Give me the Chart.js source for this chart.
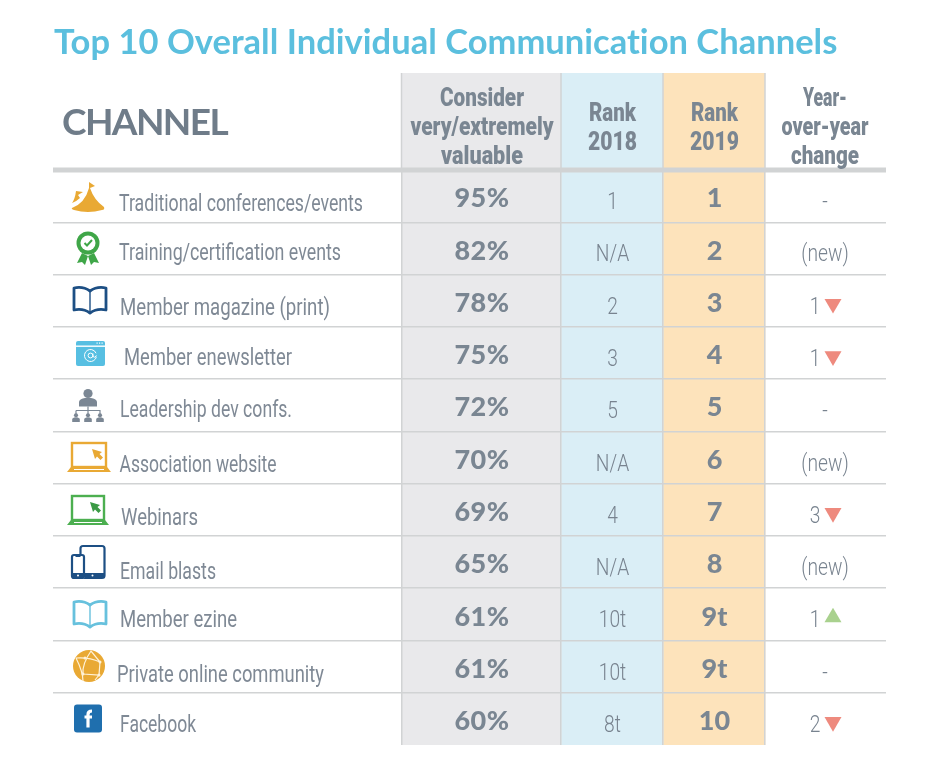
<!DOCTYPE html>
<html><head><meta charset="utf-8">
<style>html,body{margin:0;padding:0;background:#fff}canvas{display:block}</style>
<script src="https://cdn.jsdelivr.net/npm/chart.js@4/dist/chart.umd.min.js"></script>
</head><body><canvas id="c" width="947" height="783"></canvas>
<script>
// ---- data ----
const titleText = 'Top 10 Overall Individual Communication Channels';
const channelHeader = 'CHANNEL';
const channels = ['Traditional conferences/events','Training/certification events','Member magazine (print)','Member enewsletter','Leadership dev confs.','Association website','Webinars','Email blasts','Member ezine','Private online community','Facebook'];
const considerValues = [95,82,78,75,72,70,69,65,61,61,60];
const rank2018 = ['1','N/A','2','3','5','N/A','4','N/A','10t','10t','8t'];
const rank2019 = ['1','2','3','4','5','6','7','8','9t','9t','10'];
const changeLabels = ['-','(new)','1','1','-','(new)','3','(new)','1','-','2'];
const changeDirection = ['','','down','down','','','down','','up','','down'];
const headerConsider = ['Consider','very/extremely','valuable'];
const headerRank2018 = ['Rank','2018'];
const headerRank2019 = ['Rank','2019'];
const headerChange = ['Year-','over-year','change'];

// ---- layout & style (not data) ----
const edges = [401.5,561,663,765];
const tableLeft = 53, tableRight = 886, tableTop = 73, headerBottom = 170, tableBottom = 745;
const centers = {consider:482, r18:612.5, r19:714.5, change:825};
const arrowX = 833, changeNumX = 815;
const GREY='#7a8692', LINE='#d1d3d4';
const labelDx = [119,119,120,124,120,119.5,121,120,120,117,120];
const labelDy = [9,6,8,6,5.5,8,9,11,7,9,7];
const labelW = [244,222,210,168,172,157,77,96,117,207,76];
const NARROW = 0.80; // horizontal squeeze giving the condensed look

const rowBars = (a,b)=>channels.map(()=>[a,b]);
const arrowPoints = dir => changeDirection.map((d,i)=>d===dir?{x:arrowX,y:i+0.06}:null).filter(Boolean);

function text(ctx,s,x,y,font,color,align,width){
  ctx.font=font;ctx.fillStyle=color;ctx.textAlign=align||'left';ctx.textBaseline='middle';
  ctx.letterSpacing='0px';
  if(width){const m=ctx.measureText(s).width;ctx.letterSpacing=((width-m)/s.length).toFixed(3)+'px';}
  ctx.fillText(s,x,y);ctx.letterSpacing='0px';
}
function squeezed(ctx,s,x,y,font,color,align,width){
  ctx.save();ctx.font=font;ctx.fillStyle=color;ctx.textAlign=align||'left';ctx.textBaseline='middle';
  const sx=width?width/ctx.measureText(s).width:NARROW;
  ctx.translate(x,y);ctx.scale(sx,1);ctx.fillText(s,0,0);ctx.restore();
}
function rr(ctx,x,y,w,h,r){ctx.beginPath();ctx.roundRect(x,y,w,h,r);}

function cursor(ctx,x,y,c){ctx.fillStyle=c;ctx.beginPath();ctx.moveTo(x,y);ctx.lineTo(x+10,y+3);ctx.lineTo(x+7.5,y+5);ctx.lineTo(x+11,y+8.5);ctx.lineTo(x+8.5,y+11);ctx.lineTo(x+5,y+7.5);ctx.lineTo(x+3,y+10);ctx.closePath();ctx.fill();}
function laptop(ctx,c,hw){
  ctx.strokeStyle=c;ctx.lineWidth=2.4;ctx.strokeRect(-hw,-14,hw*2,24);
  ctx.fillStyle=c;ctx.beginPath();ctx.moveTo(-hw-1,10);ctx.lineTo(hw+1,10);ctx.lineTo(hw+5,15);ctx.lineTo(-hw-5,15);ctx.closePath();ctx.fill();
  ctx.fillStyle='#fff';ctx.fillRect(-hw+2,12,hw*2-4,1);
}
function book(ctx,c){
  ctx.strokeStyle=c;ctx.lineWidth=2.8;ctx.lineJoin='round';
  ctx.beginPath();ctx.moveTo(0,-9);ctx.quadraticCurveTo(-7,-14,-16,-12);ctx.lineTo(-16,10);ctx.quadraticCurveTo(-7,8,0,13);ctx.quadraticCurveTo(7,8,16,10);ctx.lineTo(16,-12);ctx.quadraticCurveTo(7,-14,0,-9);ctx.closePath();ctx.stroke();
  ctx.lineWidth=1.4;ctx.beginPath();ctx.moveTo(0,-9);ctx.lineTo(0,12);ctx.stroke();
}
function person(ctx,x,y,s,c){ctx.fillStyle=c;ctx.beginPath();ctx.arc(x,y-s*0.6,s*0.55,0,7);ctx.fill();ctx.beginPath();ctx.moveTo(x-s,y+s*1.2);ctx.lineTo(x-s,y+s*0.3);ctx.quadraticCurveTo(x,y-s*0.4,x+s,y+s*0.3);ctx.lineTo(x+s,y+s*1.2);ctx.closePath();ctx.fill();}
const icons = [
 {cx:88,cy:197,draw(ctx){const c='#e9a934';ctx.fillStyle=c;
   ctx.beginPath();ctx.moveTo(1,-15);ctx.lineTo(7,-11);ctx.lineTo(2,-9);ctx.quadraticCurveTo(6,3,16,10);ctx.quadraticCurveTo(17,13,14,13);ctx.quadraticCurveTo(0,17,-14,13);ctx.quadraticCurveTo(-17,12,-16,11);ctx.quadraticCurveTo(-3,6,1,-9);ctx.closePath();ctx.fill();
   ctx.beginPath();ctx.moveTo(-12,-6);ctx.lineTo(-5,-5);ctx.lineTo(-10,-2);ctx.lineTo(-8,1);ctx.quadraticCurveTo(-11,4,-16,6);ctx.quadraticCurveTo(-13,2,-12,-6);ctx.closePath();ctx.fill();}},
 {cx:88,cy:248,draw(ctx){const c='#3fa648';ctx.fillStyle=c;
   ctx.beginPath();ctx.moveTo(-6,5);ctx.lineTo(-11,15);ctx.lineTo(-6,14);ctx.lineTo(-3,17);ctx.lineTo(0,8);ctx.closePath();ctx.fill();
   ctx.beginPath();ctx.moveTo(6,5);ctx.lineTo(11,15);ctx.lineTo(6,14);ctx.lineTo(3,17);ctx.lineTo(0,8);ctx.closePath();ctx.fill();
   ctx.beginPath();ctx.arc(0,-5,11.5,0,7);ctx.fill();
   ctx.fillStyle='#fff';ctx.beginPath();ctx.arc(0,-5,7.5,0,7);ctx.fill();
   ctx.strokeStyle=c;ctx.lineWidth=2;ctx.beginPath();ctx.moveTo(-3.5,-5);ctx.lineTo(-1,-2.5);ctx.lineTo(4,-8);ctx.stroke();}},
 {cx:90,cy:300,draw(ctx){book(ctx,'#1d4f84');}},
 {cx:90.5,cy:353.5,draw(ctx){const c='#57bfe2';ctx.fillStyle=c;rr(ctx,-14.5,-12.5,29,25,2);ctx.fill();
   ctx.fillStyle='#fff';ctx.fillRect(-14.5,-8,29,1.4);
   ctx.fillRect(6,-11,1.2,1.2);ctx.fillRect(8.5,-11,1.2,1.2);ctx.fillRect(11,-11,1.2,1.2);
   ctx.strokeStyle='#fff';ctx.lineWidth=1;ctx.beginPath();ctx.arc(0,2,6,0.2,5.9);ctx.stroke();ctx.beginPath();ctx.arc(0,2,2.4,0,7);ctx.stroke();ctx.beginPath();ctx.moveTo(2.4,0);ctx.lineTo(2.4,3);ctx.quadraticCurveTo(4,5,6,2);ctx.stroke();}},
 {cx:88,cy:405.5,draw(ctx){const c='#7b8794';ctx.fillStyle=c;
   ctx.beginPath();ctx.arc(0,-12,4.6,0,7);ctx.fill();
   ctx.beginPath();ctx.moveTo(-9,1);ctx.lineTo(-9,-4);ctx.quadraticCurveTo(-8,-7,-3,-7.5);ctx.lineTo(3,-7.5);ctx.quadraticCurveTo(8,-7,9,-4);ctx.lineTo(9,1);ctx.closePath();ctx.fill();
   ctx.strokeStyle=c;ctx.lineWidth=1.2;ctx.beginPath();ctx.moveTo(0,1);ctx.lineTo(0,6);ctx.moveTo(-12,5);ctx.lineTo(12,5);ctx.lineTo(12,9);ctx.moveTo(-12,5);ctx.lineTo(-12,9);ctx.moveTo(0,5);ctx.lineTo(0,9);ctx.stroke();
   [-12,0,12].forEach(x=>person(ctx,x,12,3.8,c));}},
 {cx:89,cy:457,draw(ctx){laptop(ctx,'#e9a934',17);cursor(ctx,3,-8,'#e9a934');}},
 {cx:88,cy:510,draw(ctx){laptop(ctx,'#4caf50',16);cursor(ctx,2,-8,'#3b9a45');}},
 {cx:88.5,cy:562,draw(ctx){const c='#1d4f84';ctx.strokeStyle=c;ctx.lineWidth=2.2;
   rr(ctx,-8,-16,24,32,2.5);ctx.stroke();
   ctx.fillStyle=c;ctx.fillRect(-8,11,24,5);
   ctx.fillStyle='#fff';rr(ctx,-18,-8,14,25,2);ctx.fill();
   ctx.strokeStyle=c;rr(ctx,-16.5,-7,12,23,2);ctx.stroke();
   ctx.fillStyle=c;ctx.fillRect(-16.5,11,12,5);ctx.fillRect(-13,-6,5,1);
   ctx.fillStyle='#fff';ctx.beginPath();ctx.arc(-10.5,13.5,1,0,7);ctx.arc(4,13.5,1,0,7);ctx.fill();}},
 {cx:90,cy:614,draw(ctx){book(ctx,'#67c1dd');}},
 {cx:89,cy:666,draw(ctx){ctx.fillStyle='#e9a934';ctx.beginPath();ctx.arc(0,0,16,0,7);ctx.fill();
   ctx.strokeStyle='#fff2d8';ctx.lineWidth=1.2;
   ctx.beginPath();ctx.moveTo(-13,-8);ctx.quadraticCurveTo(-6,6,-6,15);ctx.moveTo(-6,8);ctx.lineTo(10,9);ctx.lineTo(11,-4);ctx.lineTo(2,-15);ctx.quadraticCurveTo(-7,-2,-6,8);ctx.moveTo(-13,-8);ctx.quadraticCurveTo(0,-9,11,-4);ctx.moveTo(10,9);ctx.lineTo(6,14);ctx.stroke();
   ctx.fillStyle='#fff2d8';[[-6,8],[10,9],[11,-4],[-4,-8]].forEach(p=>{ctx.beginPath();ctx.arc(p[0],p[1],1.5,0,7);ctx.fill();});}},
 {cx:88,cy:718.5,draw(ctx){ctx.fillStyle='#1f6fae';rr(ctx,-14,-14,28,28,3);ctx.fill();
   ctx.strokeStyle='#fff';ctx.lineWidth=3.2;ctx.beginPath();ctx.moveTo(0,9);ctx.lineTo(0,-4);ctx.quadraticCurveTo(0,-7.5,4,-7.5);ctx.moveTo(-3.5,-1.5);ctx.lineTo(4,-1.5);ctx.stroke();}}
];

const tablePlugin = {
  id:'table',
  beforeDatasetsDraw(chart){
    const {ctx,scales:{x}}=chart;
    const fills=[[edges[0],edges[1],'#e9e9eb'],[edges[1],edges[2],'#daeef6'],[edges[2],edges[3],'#fde3bb']];
    fills.forEach(f=>{const a=x.getPixelForValue(f[0]),b=x.getPixelForValue(f[1]);ctx.fillStyle=f[2];ctx.fillRect(a,tableTop,b-a,headerBottom-tableTop);});
  },
  afterDraw(chart){
    const {ctx,scales:{x,y}}=chart;
    ctx.save();
    ctx.strokeStyle=LINE;ctx.lineWidth=1.5;
    edges.forEach(v=>{const p=x.getPixelForValue(v);ctx.beginPath();ctx.moveTo(p,tableTop);ctx.lineTo(p,headerBottom);ctx.stroke();});
    ctx.lineWidth=5;ctx.beginPath();ctx.moveTo(tableLeft,headerBottom);ctx.lineTo(tableRight,headerBottom);ctx.stroke();
    text(ctx,titleText,54,43,'700 34.5px Lato','#5bbfde','left',784);
    text(ctx,channelHeader,62,123.5,'700 37px Lato','#6f7c89','left',165);
    const hf='900 25px Roboto';
    const hdr=(lines,cx,ys,w)=>lines.forEach((l,i)=>squeezed(ctx,l,x.getPixelForValue(cx),ys[i],hf,GREY,'center',w[i]));
    hdr(headerConsider,centers.consider,[99.5,128.5,157.5],[84,143,82]);
    hdr(headerRank2018,centers.r18,[114.5,143.5],[47,49]);
    hdr(headerRank2019,centers.r19,[114.5,143.5],[47,49]);
    hdr(headerChange,centers.change,[99.5,128.5,157.5],[44,87,68]);
    channels.forEach((name,i)=>{
      const cy=y.getPixelForValue(i);
      squeezed(ctx,name,labelDx[i],cy+labelDy[i],'400 24px Roboto','#7f8995','left',labelW[i]);
      text(ctx,considerValues[i]+'%',x.getPixelForValue(centers.consider),cy+2.5,'900 27px Lato',GREY,'center',55);
      squeezed(ctx,rank2018[i],x.getPixelForValue(centers.r18),cy+7,'300 24px Roboto','#78838f','center');
      text(ctx,rank2019[i],x.getPixelForValue(centers.r19),cy+2.5,'900 27px Lato',GREY,'center');
      const cx=changeDirection[i]?changeNumX:centers.change;
      squeezed(ctx,changeLabels[i],x.getPixelForValue(cx),cy+7,'300 24px Roboto','#78838f','center');
    });
    icons.forEach(ic=>{ctx.save();ctx.translate(ic.cx,ic.cy);ic.draw(ctx);ctx.restore();});
    ctx.restore();
  }
};

const bar=(label,a,b,color)=>({label,data:rowBars(a,b),backgroundColor:color,borderWidth:0,barPercentage:1,categoryPercentage:1,grouped:false});
const arrow=(label,dir,color,rot)=>({type:'scatter',label,indexAxis:'x',parsing:false,normalized:true,data:arrowPoints(dir),pointStyle:'triangle',pointRadius:9.8,pointRotation:rot,pointBackgroundColor:color,pointBorderWidth:0,xAxisID:'x',yAxisID:'y',showLine:false});

new Chart(document.getElementById('c'),{
  type:'bar',
  plugins:[tablePlugin],
  data:{labels:channels,datasets:[
    bar('Consider very/extremely valuable',edges[0],edges[1],'#e9e9eb'),
    bar('Rank 2018',edges[1],edges[2],'#daeef6'),
    bar('Rank 2019',edges[2],edges[3],'#fde3bb'),
    arrow('Down','down','#ee8a7e',180),
    arrow('Up','up','#a9d18e',0)
  ]},
  options:{
    indexAxis:'y',responsive:false,animation:false,devicePixelRatio:1,
    layout:{padding:{left:tableLeft,right:947-tableRight,top:headerBottom,bottom:783-tableBottom}},
    plugins:{legend:{display:false},tooltip:{enabled:false},title:{display:false}},
    scales:{
      x:{type:'linear',min:tableLeft,max:tableRight,
        afterBuildTicks:a=>{a.ticks=edges.map(v=>({value:v}));},
        ticks:{display:false},border:{display:false},
        grid:{color:LINE,lineWidth:1.5,drawTicks:false,z:1}},
      y:{type:'category',offset:true,
        ticks:{display:false},border:{display:false},
        grid:{offset:true,drawTicks:false,z:1,lineWidth:1.5,color:c=>(c.type!=='tick'||c.index===0)?'rgba(0,0,0,0)':LINE}}
    }
  }
});
</script></body></html>
